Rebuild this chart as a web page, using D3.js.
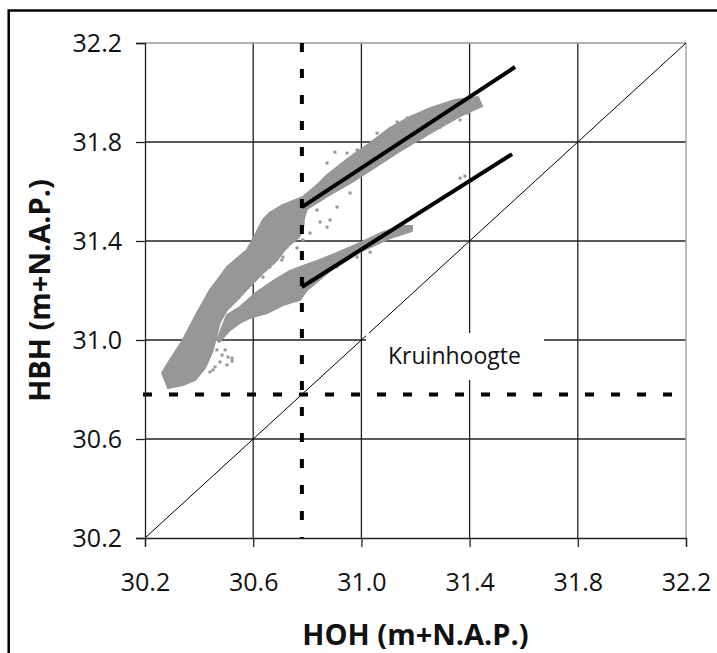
<!DOCTYPE html>
<html>
<head>
<meta charset="utf-8">
<script src="https://cdn.jsdelivr.net/npm/d3@7"></script>
<style>
  body { margin: 0; background: #fff; }
  svg { display: block; }
  text { font-family: "Open Sans", "DejaVu Sans", sans-serif; fill: #111; }
</style>
</head>
<body>
<div id="chart"></div>
<script>
// ------------------------------ DATA ------------------------------
var tickValues = [30.2, 30.6, 31.0, 31.4, 31.8, 32.2];
var kruinhoogte = [30.78];

// outline of the dense cloud: main body + upper branch (HOH, HBH)
var cloudMain = [
  [30.263, 30.867], [30.292, 30.919], [30.340, 31.000], [30.392, 31.109], [30.440, 31.202],
  [30.503, 31.295], [30.577, 31.364], [30.607, 31.424], [30.636, 31.485], [30.662, 31.515],
  [30.710, 31.546], [30.784, 31.578], [30.840, 31.630], [30.873, 31.667], [30.958, 31.739],
  [31.032, 31.796], [31.106, 31.857], [31.180, 31.901], [31.254, 31.937], [31.346, 31.970],
  [31.431, 31.982], [31.446, 31.945], [31.365, 31.905], [31.254, 31.836], [31.143, 31.764],
  [31.058, 31.703], [30.958, 31.634], [30.873, 31.580], [30.799, 31.530], [30.788, 31.493],
  [30.784, 31.444], [30.766, 31.412], [30.725, 31.376], [30.688, 31.323], [30.636, 31.271],
  [30.599, 31.230], [30.551, 31.174], [30.503, 31.121], [30.477, 31.073], [30.462, 31.008],
  [30.448, 30.951], [30.422, 30.887], [30.385, 30.838], [30.340, 30.818], [30.285, 30.806]
];
// lower branch
var cloudLower = [
  [30.466, 31.000], [30.503, 31.101], [30.551, 31.133], [30.614, 31.194], [30.673, 31.238],
  [30.736, 31.279], [30.784, 31.299], [30.836, 31.319], [30.910, 31.352], [30.995, 31.392],
  [31.080, 31.436], [31.154, 31.461], [31.187, 31.461], [31.187, 31.440], [31.106, 31.412],
  [30.995, 31.356], [30.884, 31.279], [30.799, 31.202], [30.773, 31.162], [30.710, 31.141],
  [30.651, 31.109], [30.588, 31.089], [30.551, 31.069], [30.514, 31.040], [30.474, 30.992]
];
// loose points around the cloud
var strayX = [30.451, 30.466, 30.485, 30.507, 30.477, 30.522, 30.459, 30.440, 30.503, 30.522, 30.451, 30.496,
              30.673, 30.688, 30.706, 30.725, 30.736, 30.762, 30.662, 30.636,
              30.947, 30.984, 31.058, 31.132, 31.169, 31.206, 30.902, 30.873,
              30.958, 30.910, 30.884, 30.836, 31.106, 31.291, 31.317,
              31.353, 31.365, 31.409, 31.431, 31.394,
              31.032, 31.106, 31.150, 31.161, 30.984, 30.910, 30.873, 30.847, 30.810, 30.784, 30.762, 30.673, 30.710,
              31.365, 31.383, 31.402];
var strayY = [30.980, 30.960, 30.939, 30.931, 30.911, 30.927, 30.891, 30.871, 30.899, 30.915, 30.879, 30.960,
              31.404, 31.351, 31.323, 31.376, 31.392, 31.416, 31.295, 31.254,
              31.755, 31.768, 31.836, 31.881, 31.897, 31.909, 31.759, 31.715,
              31.594, 31.537, 31.485, 31.525, 31.796, 31.860, 31.889,
              31.929, 31.889, 31.941, 31.970, 31.917,
              31.355, 31.416, 31.444, 31.452, 31.335, 31.295, 31.456, 31.477, 31.432, 31.404, 31.372, 31.311, 31.335,
              31.654, 31.662, 31.642];

// fitted lines
var upperLineX = [30.78, 31.568], upperLineY = [31.537, 32.103];
var lowerLineX = [30.78, 31.557], lowerLineY = [31.214, 31.751];

// ------------------------------ LAYOUT ------------------------------
var svgWidth = 717, svgHeight = 653,
    plotLeft = 145, plotRight = 686, plotTop = 43, plotBottom = 538;

var svg = d3.select("#chart").append("svg")
    .attr("width", svgWidth)
    .attr("height", svgHeight);

var x = d3.scaleLinear().domain([30.2, 32.2]).range([plotLeft, plotRight]);
var y = d3.scaleLinear().domain([30.2, 32.2]).range([plotBottom, plotTop]);

// outer frame (only top/left fall inside the picture)
svg.append("rect")
    .attr("x", 8.7).attr("y", 10.5)
    .attr("width", 900).attr("height", 900)
    .attr("fill", "none").attr("stroke", "#000").attr("stroke-width", 2.5);

// ------------------------------ GRID ------------------------------
var inner = tickValues.slice(1, -1);
svg.selectAll("line.gx").data(inner).enter().append("line")
    .attr("x1", d => x(d)).attr("x2", d => x(d))
    .attr("y1", plotTop).attr("y2", plotBottom)
    .attr("stroke", "#222").attr("stroke-width", 1.3);
svg.selectAll("line.gy").data(inner).enter().append("line")
    .attr("y1", d => y(d)).attr("y2", d => y(d))
    .attr("x1", plotLeft).attr("x2", plotRight)
    .attr("stroke", "#222").attr("stroke-width", 1.3);
// top and right edges are lighter
svg.append("line").attr("x1", plotLeft).attr("x2", plotRight).attr("y1", plotTop).attr("y2", plotTop)
    .attr("stroke", "#9a9a9a").attr("stroke-width", 1.3);
svg.append("line").attr("x1", plotRight).attr("x2", plotRight).attr("y1", plotTop).attr("y2", plotBottom)
    .attr("stroke", "#9a9a9a").attr("stroke-width", 1.3);

// 1:1 line
svg.append("line")
    .attr("x1", x(30.2)).attr("y1", y(30.2))
    .attr("x2", x(32.2)).attr("y2", y(32.2))
    .attr("stroke", "#000").attr("stroke-width", 1);

// ------------------------------ CLOUD ------------------------------
var area = d3.line().x(d => x(d[0])).y(d => y(d[1])).curve(d3.curveLinearClosed);
var cloudColor = "#979797";
[cloudMain, cloudLower].forEach(function (poly) {
    svg.append("path").attr("d", area(poly))
        .attr("fill", cloudColor).attr("stroke", cloudColor).attr("stroke-width", 2)
        .attr("stroke-linejoin", "round");
});
svg.selectAll("rect.stray").data(d3.range(strayX.length)).enter().append("rect")
    .attr("class", "stray")
    .attr("x", i => x(strayX[i]) - 1.5).attr("y", i => y(strayY[i]) - 1.5)
    .attr("width", 3).attr("height", 3)
    .attr("fill", cloudColor);

// ------------------------------ KRUINHOOGTE ------------------------------
svg.append("line")
    .attr("x1", x(kruinhoogte[0])).attr("x2", x(kruinhoogte[0]))
    .attr("y1", plotTop).attr("y2", plotBottom)
    .attr("stroke", "#000").attr("stroke-width", 4).attr("stroke-dasharray", "9,17");
svg.append("line")
    .attr("y1", y(kruinhoogte[0])).attr("y2", y(kruinhoogte[0]))
    .attr("x1", plotLeft - 2).attr("x2", plotRight)
    .attr("stroke", "#000").attr("stroke-width", 4).attr("stroke-dasharray", "9,17");

// fitted lines
[[upperLineX, upperLineY], [lowerLineX, lowerLineY]].forEach(function (l) {
    svg.append("line")
        .attr("x1", x(l[0][0])).attr("y1", y(l[1][0]))
        .attr("x2", x(l[0][1])).attr("y2", y(l[1][1]))
        .attr("stroke", "#000").attr("stroke-width", 4);
});

// label box
svg.append("rect").attr("x", 366).attr("y", 333).attr("width", 178).attr("height", 47)
    .attr("fill", "#fff");
svg.append("text").attr("x", 388).attr("y", 364)
    .attr("font-size", 23).text("Kruinhoogte");

// ------------------------------ AXES ------------------------------
var fmt = d3.format(".1f");
var xAxis = svg.append("g").attr("transform", "translate(0," + plotBottom + ")")
    .call(d3.axisBottom(x).tickValues(tickValues).tickFormat(fmt).tickSize(9).tickPadding(26));
var yAxis = svg.append("g").attr("transform", "translate(" + plotLeft + ",0)")
    .call(d3.axisLeft(y).tickValues(tickValues).tickFormat(fmt).tickSize(9).tickPadding(14));
[xAxis, yAxis].forEach(function (g) {
    g.select(".domain").attr("stroke", "#222").attr("stroke-width", 1.3);
    g.selectAll(".tick line").attr("stroke", "#222").attr("stroke-width", 1.3);
    g.selectAll(".tick text").attr("font-size", 25).attr("fill", "#111")
        .attr("font-family", "'Open Sans', sans-serif");
});

svg.append("text")
    .attr("x", (plotLeft + plotRight) / 2).attr("y", 645)
    .attr("text-anchor", "middle").attr("font-size", 29).attr("font-weight", "bold")
    .text("HOH (m+N.A.P.)");
svg.append("text")
    .attr("transform", "translate(50," + (plotTop + plotBottom) / 2 + ") rotate(-90)")
    .attr("text-anchor", "middle").attr("font-size", 29).attr("font-weight", "bold")
    .text("HBH (m+N.A.P.)");
</script>
</body>
</html>
